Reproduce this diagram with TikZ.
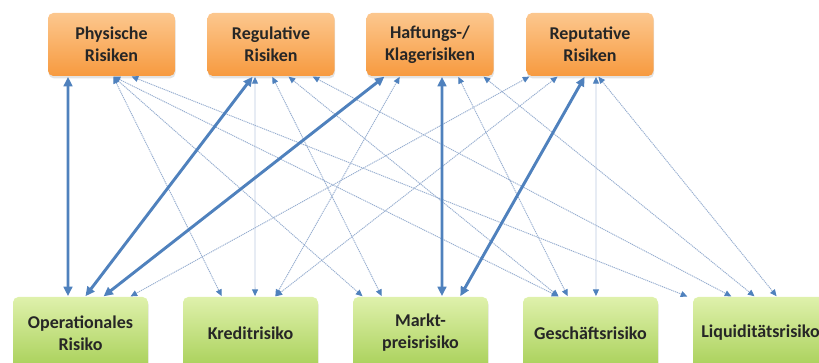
\documentclass[tikz,border=0pt]{standalone}
\usepackage{fontspec}
\setmainfont{Carlito}
\usetikzlibrary{arrows.meta,shadows}

\definecolor{orangetop}{HTML}{FCC78E}
\definecolor{orangebot}{HTML}{F79A3F}
\definecolor{greentop}{HTML}{DFF1AC}
\definecolor{greenbot}{HTML}{A8D058}
\definecolor{linkblue}{HTML}{4F81BD}
\definecolor{faintblue}{HTML}{97AED0}
\definecolor{labeltext}{HTML}{262626}

\tikzset{
  riskbox/.style={rounded corners=4pt, align=center, inner sep=0pt,
    text=labeltext, font=\fontsize{13.5}{16.5}\selectfont\bfseries,
    drop shadow={shadow xshift=0.4pt, shadow yshift=-1.8pt, opacity=.22}},
  topbox/.style={riskbox, top color=orangetop, bottom color=orangebot,
    minimum width=95.25pt, minimum height=47.25pt},
  botbox/.style={riskbox, top color=greentop, bottom color=greenbot,
    minimum width=101.25pt, minimum height=54pt},
  strong link/.style={draw=linkblue, line width=2.2pt, shorten <=0.5pt, shorten >=0.5pt,
    {Triangle[length=7pt,width=6.5pt]}-{Triangle[length=7pt,width=6.5pt]}},
  weak link/.style={draw=faintblue, line width=0.7pt, dash pattern=on 0.9pt off 0.6pt,
    shorten <=0.5pt, shorten >=0.5pt,
    {Triangle[length=5pt,width=4.5pt,fill=linkblue,color=linkblue]}-{Triangle[length=5pt,width=4.5pt,fill=linkblue,color=linkblue]}}
}

\begin{document}
\begin{tikzpicture}[x=0.75pt,y=-0.75pt]
  \useasboundingbox (0,0) rectangle (819,363);

  % top row: risk types
  \node[topbox] (t1) at (111.5,44.5) {Physische\\Risiken};
  \node[topbox] (t2) at (271,44.5)   {Regulative\\Risiken};
  \node[topbox] (t3) at (430,44.5)   {Haftungs-/\\Klagerisiken};
  \node[topbox] (t4) at (590,44.5)   {Reputative\\Risiken};

  % bottom row: classical risks
  \node[botbox] (b1) at (80.5,333)  {Operationales\\Risiko};
  \node[botbox] (b2) at (250.5,333) {Kreditrisiko};
  \node[botbox] (b3) at (420.5,333) {Markt-\\preisrisiko};
  \node[botbox] (b4) at (590.5,333) {Geschäftsrisiko};
  \node[botbox] (b5) at (760.5,333) {Liquiditätsrisiko};

  % weak links
  \path ([xshift=1.1pt]t1.south)   edge[weak link] ([xshift=-21.4pt]b2.north);
  \path ([xshift=1.1pt]t1.south)   edge[weak link] ([xshift=-43.1pt]b3.north);
  \path ([xshift=1.1pt]t1.south)   edge[weak link] ([xshift=-23.6pt]b4.north);
  \path ([xshift=14.6pt]t1.south)  edge[weak link] ([xshift=-54.4pt]b5.north);
  \path ([xshift=-12pt]t2.south)   edge[weak link] ([xshift=3.4pt]b2.north);
  \path ([xshift=0.8pt]t2.south)   edge[weak link] ([xshift=-28.9pt]b3.north);
  \path ([xshift=12.8pt]t2.south)  edge[weak link] ([xshift=-23.6pt]b4.north);
  \path ([xshift=30.8pt]t2.south)  edge[weak link] ([xshift=-21.4pt]b5.north);
  \path ([xshift=-22.5pt]t3.south) edge[weak link] ([xshift=18.4pt]b2.north);
  \path ([xshift=21pt]t3.south)    edge[weak link] ([xshift=-16.9pt]b4.north);
  \path ([xshift=39.8pt]t3.south)  edge[weak link] ([xshift=-4.1pt]b5.north);
  \path ([xshift=-45pt]t4.south)   edge[weak link] ([xshift=37.1pt]b1.north);
  \path ([xshift=-24pt]t4.south)   edge[weak link] ([xshift=18.4pt]b2.north);
  \path ([xshift=4.5pt]t4.south)   edge[weak link] ([xshift=4.1pt]b4.north);
  \path ([xshift=6pt]t4.south)     edge[weak link] ([xshift=12.4pt]b5.north);

  % strong links
  \path ([xshift=-32.6pt]t1.south) edge[strong link] ([xshift=-9.4pt]b1.north);
  \path ([xshift=-13.5pt]t2.south) edge[strong link] ([xshift=3.4pt]b1.north);
  \path ([xshift=-33.8pt]t3.south) edge[strong link] ([xshift=16.9pt]b1.north);
  \path ([xshift=9pt]t3.south)     edge[strong link] ([xshift=16.1pt]b3.north);
  \path ([xshift=-3.8pt]t4.south)  edge[strong link] ([xshift=29.6pt]b3.north);
\end{tikzpicture}
\end{document}
